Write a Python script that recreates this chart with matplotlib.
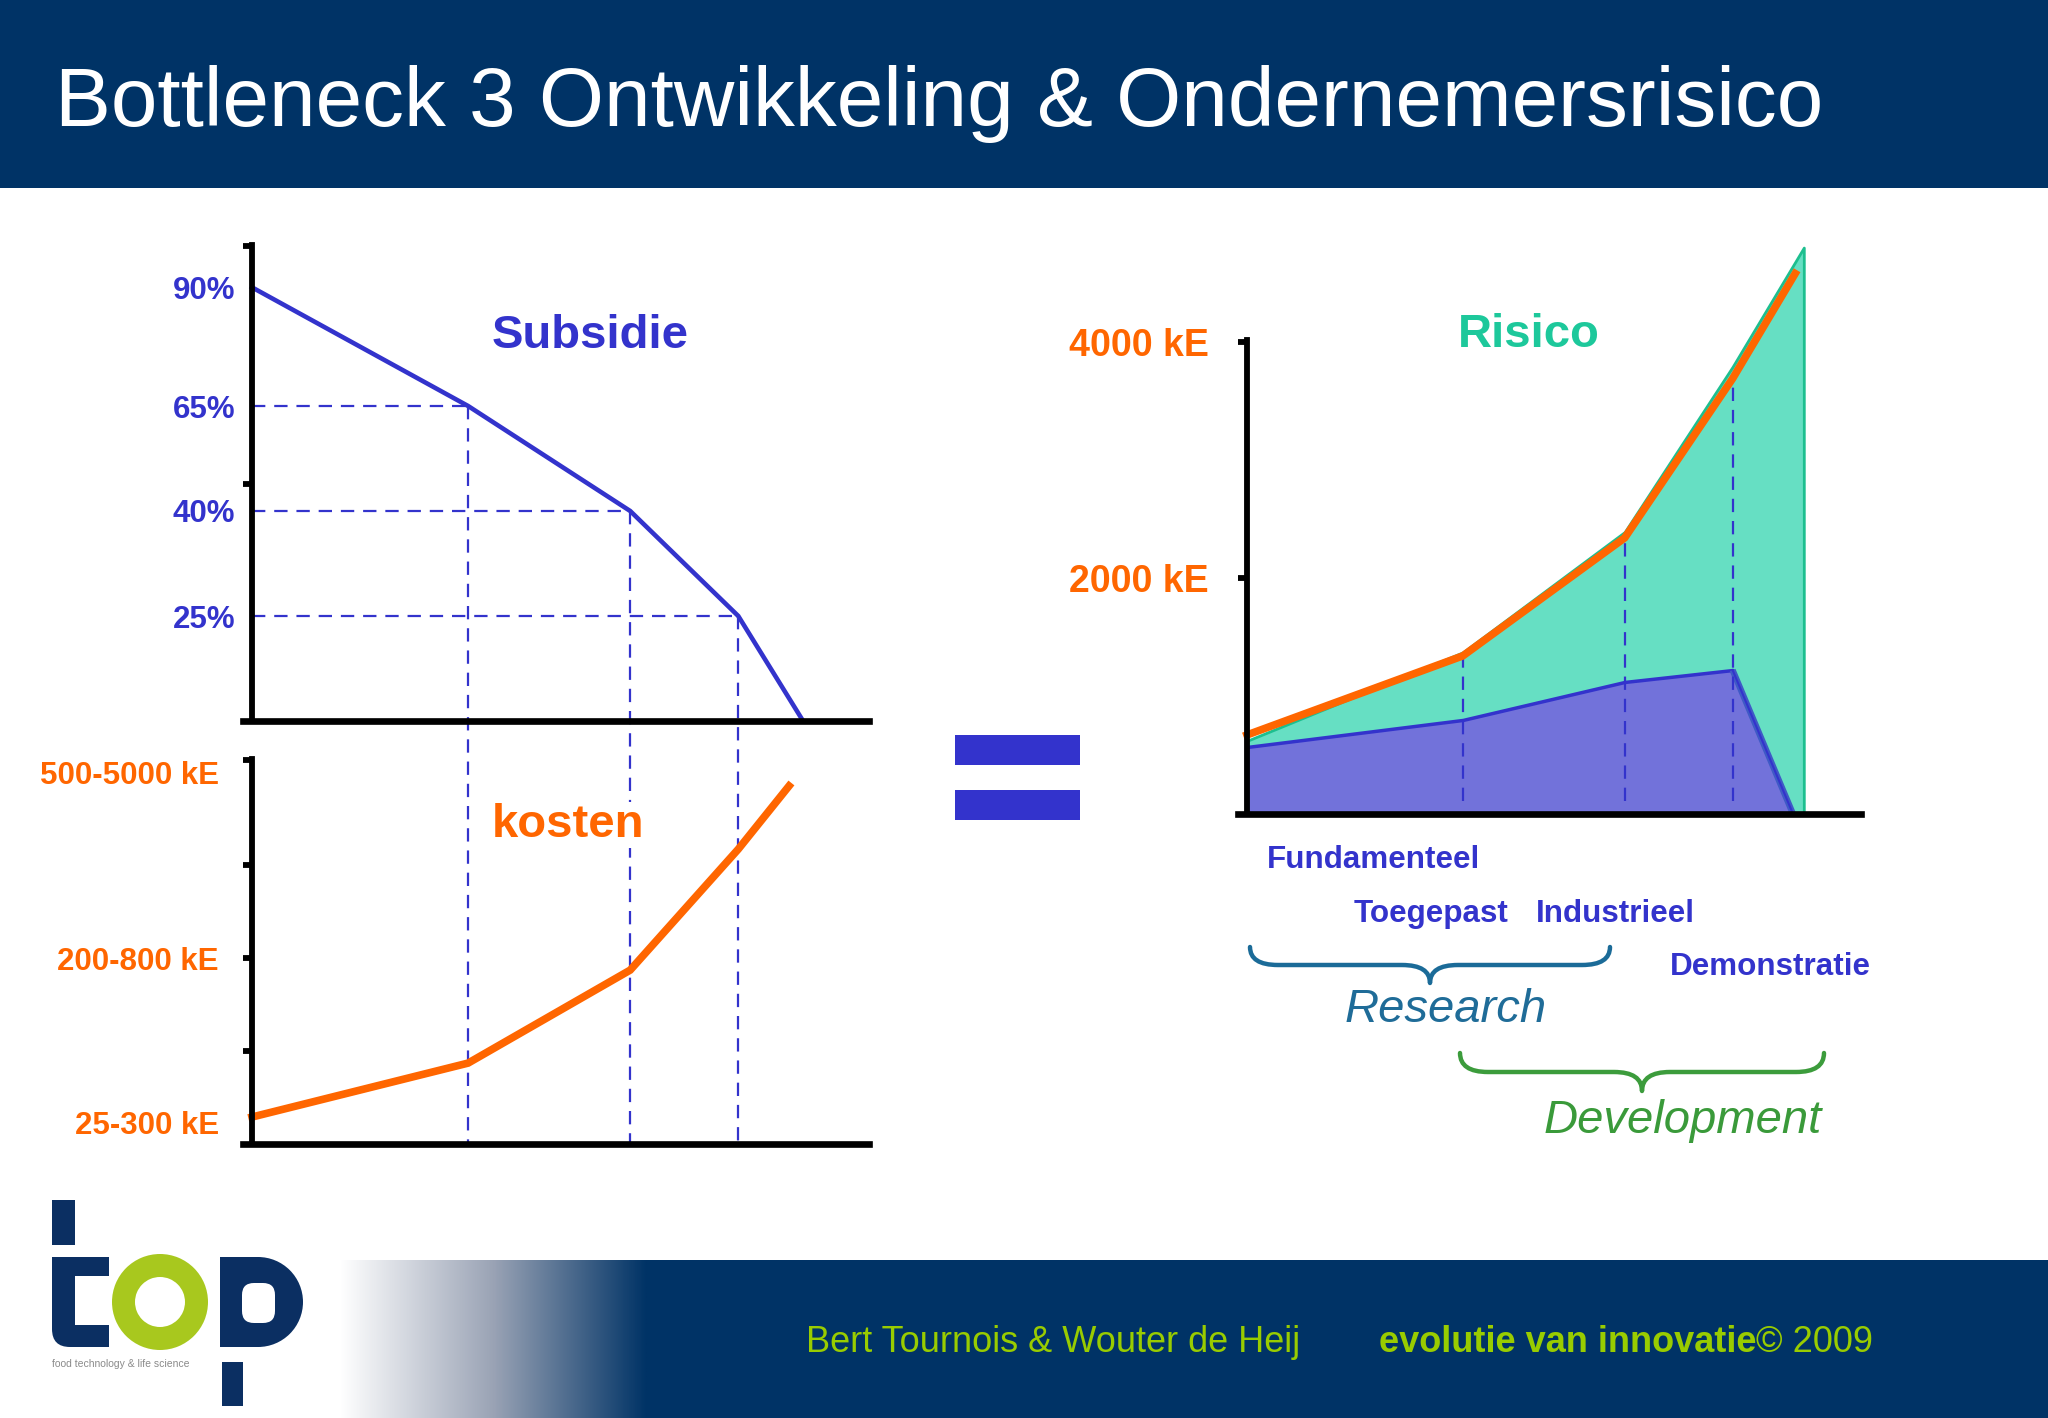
import matplotlib.pyplot as plt
import numpy as np
from matplotlib.patches import Rectangle, Wedge, PathPatch, FancyBboxPatch
from matplotlib.path import Path
from matplotlib.colors import LinearSegmentedColormap

plt.rcParams['font.family'] = ['Liberation Sans', 'DejaVu Sans']

# --- data (schematic levels) ---
fases = ['Fundamenteel', 'Toegepast', 'Industrieel', 'Demonstratie']

subsidie_x = [0, 2, 3.5, 4.5, 5.1]
subsidie_level = [4.13, 3, 2, 1, 0]
subsidie_labels = ['90%', '65%', '40%', '25%']

kosten_x = [0, 2, 3.5, 4.5, 4.97]
kosten_level = [0.29, 0.87, 1.87, 3.17, 3.85]
kosten_labels = ['25-300 kE', '200-800 kE', '500-5000 kE']
kosten_label_pos = [0.23, 2.0, 4.0]

risico_x = [0, 2, 3.5, 4.5, 5.08]
risico_kosten = [670, 1340, 2340, 3690, 4580]
risico_top_x = [0, 2, 3.5, 4.5, 5.16]
risico_top = [620, 1370, 2390, 3790, 4800]
risico_sub_x = [0, 2, 3.5, 4.5, 5.06]
risico_sub = [568, 797, 1119, 1220, 0]
risico_ticks = [2000, 4000]
risico_ticklabels = ['2000 kE', '4000 kE']

BLUE = '#3333CC'
ORANGE = '#FF6600'
NAVY = '#003366'
LIME = '#99CC00'

W, H = 2048, 1418
fig = plt.figure(figsize=(W / 100, H / 100), dpi=100)
fig.patch.set_facecolor('white')


def box(left, right, top, bottom):
    return [left / W, 1 - bottom / H, (right - left) / W, (bottom - top) / H]


# background layer in pixel coordinates
bg = fig.add_axes([0, 0, 1, 1], zorder=-1)
bg.set_xlim(0, W)
bg.set_ylim(H, 0)
bg.axis('off')

bg.add_patch(Rectangle((0, 0), W, 188, color=NAVY, lw=0))
bg.text(55, 104, 'Bottleneck 3 Ontwikkeling & Ondernemersrisico', color='white',
        fontsize=60.3, va='center', ha='left')

# footer with gradient
grad = LinearSegmentedColormap.from_list('g', ['white', '#9AA3B5', NAVY])
bg.imshow(np.linspace(0, 1, 256)[None, :], extent=[340, 647, H, 1260], cmap=grad,
          aspect='auto', zorder=1)
bg.add_patch(Rectangle((647, 1260), W - 647, H - 1260, color=NAVY, lw=0, zorder=1))
bg.text(806, 1343, 'Bert Tournois & Wouter de Heij', color=LIME, fontsize=26,
        va='center', ha='left', zorder=3)
t2 = bg.text(1379, 1343, 'evolutie van innovatie', color=LIME, fontsize=26,
             fontweight='bold', va='center', ha='left', zorder=3)
bg.annotate('© 2009', xy=(1, 0.5), xycoords=t2, va='center', ha='left',
            color=LIME, fontsize=26, zorder=3)

# logo
LOGO = '#0B2F62'
bg.add_patch(Rectangle((52, 1200), 23, 45, color=LOGO, lw=0, zorder=2))
bg.add_patch(FancyBboxPatch((52, 1257), 57, 90, boxstyle='round,pad=0,rounding_size=18',
                            color=LOGO, lw=0, zorder=2))
bg.add_patch(Rectangle((90, 1257), 19, 20, color=LOGO, lw=0, zorder=2))
bg.add_patch(Rectangle((52, 1257), 20, 20, color=LOGO, lw=0, zorder=2))
bg.add_patch(Rectangle((90, 1325), 19, 22, color=LOGO, lw=0, zorder=2))
bg.add_patch(Rectangle((75, 1276), 40, 49, color='white', lw=0, zorder=2))
bg.add_patch(Wedge((160, 1302), 48, 0, 360, width=23, color='#A8C81E', lw=0, zorder=2))
bg.add_patch(Rectangle((220, 1257), 39, 90, color=LOGO, lw=0, zorder=2))
bg.add_patch(Wedge((258, 1302), 45, -90, 90, color=LOGO, lw=0, zorder=2))
bg.add_patch(FancyBboxPatch((242, 1283), 33, 40, boxstyle='round,pad=0,rounding_size=12',
                            color='white', lw=0, zorder=2))
bg.add_patch(Rectangle((222, 1362), 21, 44, color=LOGO, lw=0, zorder=2))
bg.text(52, 1364, 'food technology & life science', fontsize=7.5, color='#8A8A8A',
        va='center', ha='left', zorder=2)

# equals sign
bg.add_patch(Rectangle((955, 735), 125, 30, color=BLUE, lw=0))
bg.add_patch(Rectangle((955, 790), 125, 30, color=BLUE, lw=0))


def brace(x0, x1, y0, h, color):
    xm = (x0 + x1) / 2
    yh = y0 + 0.5 * h
    yt = y0 + h
    r = 28
    verts = [(x0, y0), (x0, yh), (x0 + r, yh), (xm - r, yh), (xm, yh), (xm, yt),
             (xm, yh), (xm + r, yh), (x1 - r, yh), (x1, yh), (x1, y0)]
    codes = [Path.MOVETO, Path.CURVE3, Path.CURVE3, Path.LINETO, Path.CURVE3, Path.CURVE3,
             Path.CURVE3, Path.CURVE3, Path.LINETO, Path.CURVE3, Path.CURVE3]
    bg.add_patch(PathPatch(Path(verts, codes), fill=False, ec=color, lw=3.2,
                           capstyle='round', joinstyle='round'))


brace(1250, 1610, 947, 36, '#1B6B98')
bg.text(1446, 1010, 'Research', color='#1F6C98', fontsize=34, style='italic',
        ha='center', va='center')
brace(1460, 1824, 1053, 38, '#3C9C3C')
bg.text(1683, 1121, 'Development', color='#3A9A3A', fontsize=34, style='italic',
        ha='center', va='center')

fase_pos = [(1267, 860), (1354, 914), (1536, 914), (1670, 967)]
for name, (px, py) in zip(fases, fase_pos):
    bg.text(px, py, name, color=BLUE, fontsize=22.6, fontweight='bold', va='center', ha='left')


def style_axes(ax):
    ax.set_facecolor('none')
    for s in ['top', 'right']:
        ax.spines[s].set_visible(False)
    ax.spines['left'].set_position(('data', 0))
    ax.spines['left'].set_linewidth(4.2)
    ax.spines['bottom'].set_linewidth(4.8)
    ax.spines['left'].set_zorder(5)
    ax.spines['bottom'].set_zorder(5)
    ax.set_xticks([])
    ax.yaxis.remove_overlapping_locs = False


# --- Subsidie ---
ax1 = fig.add_axes(box(252 - 0.08 * 108, 869, 721 - 4.53 * 105, 721))
ax1.set_xlim(-0.08, 5.71)
ax1.set_ylim(0, 4.53)
style_axes(ax1)
ax1.plot(subsidie_x, subsidie_level, color=BLUE, lw=3.3, solid_joinstyle='miter', zorder=4)
ax1.set_yticks(subsidie_level[:4])
ax1.set_yticklabels(subsidie_labels)
ax1.tick_params(axis='y', which='major', length=0, pad=12, labelsize=22.5, labelcolor=BLUE)
for lbl in ax1.get_yticklabels():
    lbl.set_fontweight('bold')
ax1.set_yticks([2.26, 4.52], minor=True)
ax1.tick_params(axis='y', which='minor', length=6.5, width=4.2, direction='out')
ax1.text(2.22, 3.67, 'Subsidie', color=BLUE, fontsize=34, fontweight='bold', va='center')

# --- kosten ---
ax2 = fig.add_axes(box(252 - 0.08 * 108, 869, 1144 - 4.14 * 93, 1144))
ax2.set_xlim(-0.08, 5.71)
ax2.set_ylim(0, 4.14)
style_axes(ax2)
ax2.plot(kosten_x, kosten_level, color=ORANGE, lw=5.5, solid_joinstyle='miter', zorder=4)
ax2.set_yticks(kosten_label_pos)
ax2.set_yticklabels(kosten_labels)
ax2.tick_params(axis='y', which='major', length=0, pad=24, labelsize=22.5, labelcolor=ORANGE)
for lbl in ax2.get_yticklabels():
    lbl.set_fontweight('bold')
ax2.set_yticks([1, 2, 3, 4.13], minor=True)
ax2.tick_params(axis='y', which='minor', length=6.5, width=4.2, direction='out')
ax2.text(2.22, 3.43, 'kosten', color=ORANGE, fontsize=34, fontweight='bold', va='center',
         bbox=dict(facecolor='white', edgecolor='none', pad=1), zorder=6)

# dashed guides from subsidie levels down to the kosten axis
y_floor = ax1.transData.inverted().transform(ax2.transData.transform((0, 0)))[1]
dash = (0, (6, 4))
for xv, lv in zip(subsidie_x[1:4], subsidie_level[1:4]):
    ax1.plot([0, xv], [lv, lv], color=BLUE, lw=1.6, ls=dash, zorder=3)
    ax1.plot([xv, xv], [lv, y_floor], color=BLUE, lw=1.6, ls=dash, zorder=3, clip_on=False)

# --- Risico ---
ax3 = fig.add_axes(box(1247 - 0.08 * 108, 1861, 814 - 4900 * 0.118, 814))
ax3.set_xlim(-0.08, 5.69)
ax3.set_ylim(0, 4900)
style_axes(ax3)
ax3.spines['left'].set_bounds(0, 4020)
ax3.fill_between(risico_top_x, 0, risico_top, facecolor='#66DFC3', edgecolor='#1DBF8F',
                 lw=2, zorder=1)
ax3.fill_between(risico_sub_x, 0, risico_sub, facecolor='#7272DA', edgecolor=BLUE,
                 lw=2.5, zorder=2)
ax3.plot(risico_sub_x[3:], risico_sub[3:], color='#3F5AC6', lw=4.5, zorder=2.2,
         solid_capstyle='butt')
ax3.plot(risico_sub_x[3:], risico_sub[3:], color=BLUE, lw=1.5, zorder=2.3)
for xv, yv in zip(risico_x[1:4], risico_kosten[1:4]):
    ax3.plot([xv, xv], [110, yv], color=BLUE, lw=1.6, ls=dash, zorder=3)
ax3.plot(risico_x, risico_kosten, color=ORANGE, lw=5.5, solid_joinstyle='miter', zorder=4)
ax3.set_yticks(risico_ticks)
ax3.set_yticklabels(risico_ticklabels)
ax3.tick_params(axis='y', which='major', length=6.5, width=4.2, direction='out', pad=21,
                labelsize=27, labelcolor=ORANGE)
for lbl in ax3.get_yticklabels():
    lbl.set_fontweight('bold')
ax3.text(2.61, 4060, 'Risico', color='#1DC89B', fontsize=34, fontweight='bold',
         ha='center', va='center')

fig.savefig('out.png', dpi=100, facecolor='white')
